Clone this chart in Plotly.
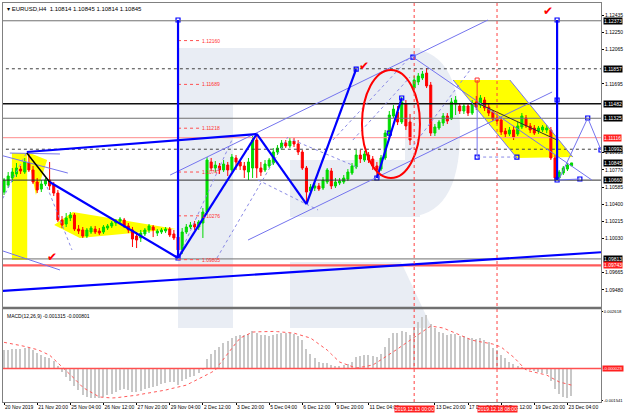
import plotly.graph_objects as go

# ---------------- data ----------------
bars = list(range(138))
opens = [1.10532,1.10607,1.10683,1.10726,1.10779,1.10747,1.10844,1.10769,1.10640,1.10564,
         1.10618,1.10661,1.10607,1.10521,1.10231,1.10188,1.10253,1.10285,1.10134,1.10124,
         1.10059,1.10102,1.10134,1.10113,1.10102,1.10145,1.10167,1.10199,1.10220,1.10231,
         1.10167,1.10124,1.10059,1.10038,1.10081,1.10124,1.10156,1.10091,1.10102,1.10113,
         1.10134,1.10081,1.10048,1.09909,1.10102,1.10156,1.10188,1.10156,1.10199,1.10317,
         1.10855,1.10790,1.10812,1.10769,1.10822,1.10769,1.10898,1.10855,1.10812,1.10747,
         1.10790,1.11091,1.10790,1.10769,1.10812,1.10844,1.10962,1.11005,1.11059,1.11027,
         1.11080,1.11048,1.10962,1.10790,1.10543,1.10575,1.10597,1.10575,1.10640,1.10758,
         1.10597,1.10629,1.10640,1.10672,1.10736,1.10801,1.10930,1.10876,1.10930,1.10887,
         1.10812,1.10779,1.10898,1.11156,1.11349,1.11392,1.11285,1.11478,1.11285,1.11650,
         1.11715,1.11758,1.11811,1.11682,1.11166,1.11220,1.11274,1.11349,1.11317,1.11478,
         1.11457,1.11403,1.11457,1.11381,1.11500,1.11467,1.11521,1.11446,1.11392,1.11328,
         1.11306,1.11188,1.11156,1.11199,1.11156,1.11231,1.11328,1.11242,1.11220,1.11188,
         1.11199,1.11199,1.11199,1.10898,1.10683,1.10736,1.10779,1.10814]
highs = [1.10683,1.10747,1.10790,1.10844,1.10812,1.10898,1.10951,1.10812,1.10683,1.10661,
         1.10683,1.10855,1.10640,1.10554,1.10274,1.10306,1.10317,1.10306,1.10177,1.10156,
         1.10145,1.10167,1.10167,1.10145,1.10177,1.10188,1.10220,1.10242,1.10263,1.10253,
         1.10199,1.10156,1.10102,1.10124,1.10145,1.10188,1.10177,1.10134,1.10145,1.10156,
         1.10156,1.10124,1.10091,1.10145,1.10188,1.10210,1.10220,1.10231,1.10360,1.10908,
         1.10898,1.10865,1.10844,1.10876,1.10855,1.10941,1.10930,1.10876,1.10855,1.10898,
         1.11134,1.11156,1.10855,1.10876,1.10898,1.11005,1.11037,1.11091,1.11091,1.11113,
         1.11113,1.11091,1.10984,1.10812,1.10618,1.10629,1.10629,1.10693,1.10790,1.10790,
         1.10683,1.10683,1.10715,1.10779,1.10844,1.10984,1.10984,1.10973,1.10962,1.10919,
         1.10855,1.10930,1.11199,1.11403,1.11467,1.11457,1.11553,1.11521,1.11371,1.11779,
         1.11811,1.11833,1.11865,1.11715,1.11263,1.11306,1.11381,1.11381,1.11543,1.11564,
         1.11489,1.11489,1.11489,1.11521,1.11564,1.11575,1.11553,1.11478,1.11414,1.11371,
         1.11338,1.11220,1.11231,1.11242,1.11285,1.11381,1.11360,1.11274,1.11252,1.11242,
         1.11252,1.11252,1.11231,1.10930,1.10769,1.10812,1.10844,1.10845]
lows = [1.10500,1.10575,1.10640,1.10693,1.10726,1.10726,1.10747,1.10618,1.10521,1.10532,
        1.10597,1.10554,1.10489,1.10210,1.10145,1.10156,1.10220,1.10113,1.10081,1.10038,
        1.10038,1.10081,1.10081,1.10070,1.10081,1.10124,1.10145,1.10167,1.10199,1.10145,
        1.10091,1.09941,1.09930,1.09995,1.10059,1.10091,1.10048,1.10059,1.10081,1.10091,
        1.10048,1.10016,1.09823,1.09866,1.10081,1.10134,1.10124,1.10124,1.10038,1.10296,
        1.10758,1.10747,1.10726,1.10747,1.10704,1.10747,1.10769,1.10769,1.10683,1.10661,
        1.10683,1.10683,1.10704,1.10747,1.10790,1.10822,1.10930,1.10984,1.11005,1.11005,
        1.11016,1.10930,1.10769,1.10414,1.10511,1.10543,1.10543,1.10554,1.10618,1.10564,
        1.10575,1.10607,1.10618,1.10650,1.10715,1.10779,1.10844,1.10855,1.10844,1.10769,
        1.10683,1.10758,1.10876,1.11123,1.11328,1.11252,1.11263,1.11199,1.11037,1.11629,
        1.11682,1.11736,1.11650,1.11134,1.11134,1.11199,1.11242,1.11263,1.11306,1.11360,
        1.11371,1.11371,1.11349,1.11360,1.11414,1.11435,1.11403,1.11349,1.11295,1.11263,
        1.11145,1.11123,1.11134,1.11091,1.11134,1.11209,1.11220,1.11166,1.11145,1.11156,
        1.11177,1.11166,1.10876,1.10661,1.10661,1.10715,1.10758,1.10814]
closes = [1.10661,1.10704,1.10747,1.10790,1.10758,1.10855,1.10769,1.10640,1.10554,1.10618,
          1.10661,1.10597,1.10521,1.10231,1.10177,1.10253,1.10285,1.10134,1.10113,1.10059,
          1.10124,1.10145,1.10102,1.10091,1.10156,1.10167,1.10199,1.10220,1.10242,1.10167,
          1.10124,1.10027,1.10016,1.10091,1.10124,1.10167,1.10124,1.10113,1.10124,1.10134,
          1.10070,1.10038,1.09909,1.10102,1.10156,1.10177,1.10156,1.10210,1.10317,1.10876,
          1.10790,1.10822,1.10769,1.10833,1.10769,1.10908,1.10855,1.10812,1.10769,1.10855,
          1.11091,1.10790,1.10747,1.10833,1.10876,1.10962,1.11005,1.11059,1.11027,1.11080,
          1.11048,1.10962,1.10790,1.10532,1.10586,1.10597,1.10564,1.10661,1.10769,1.10597,
          1.10640,1.10650,1.10683,1.10747,1.10812,1.10930,1.10887,1.10941,1.10876,1.10812,
          1.10769,1.10898,1.11166,1.11360,1.11424,1.11285,1.11500,1.11242,1.11091,1.11736,
          1.11779,1.11801,1.11672,1.11166,1.11231,1.11285,1.11349,1.11295,1.11500,1.11521,
          1.11403,1.11457,1.11381,1.11489,1.11446,1.11543,1.11435,1.11381,1.11317,1.11295,
          1.11177,1.11156,1.11199,1.11123,1.11242,1.11349,1.11242,1.11199,1.11166,1.11220,
          1.11231,1.11220,1.10898,1.10683,1.10747,1.10790,1.10822,1.10845]

macd_main = [0.00085,0.00086,0.00088,0.00090,0.00090,0.00092,0.00092,0.00082,0.00070,0.00060,
             0.00052,0.00045,0.00035,0.00010,-0.00020,-0.00040,-0.00060,-0.00085,-0.00105,-0.00125,
             -0.00135,-0.00140,-0.00142,-0.00140,-0.00135,-0.00128,-0.00120,-0.00112,-0.00105,-0.00100,
             -0.00102,-0.00110,-0.00112,-0.00108,-0.00100,-0.00092,-0.00088,-0.00082,-0.00075,-0.00068,
             -0.00065,-0.00066,-0.00080,-0.00060,-0.00050,-0.00040,-0.00035,-0.00025,-0.00010,0.00040,
             0.00065,0.00085,0.00100,0.00115,0.00125,0.00140,0.00150,0.00155,0.00155,0.00158,
             0.00175,0.00165,0.00155,0.00152,0.00150,0.00155,0.00158,0.00162,0.00162,0.00162,
             0.00160,0.00150,0.00130,0.00090,0.00065,0.00045,0.00030,0.00025,0.00025,0.00015,
             0.00010,0.00010,0.00012,0.00020,0.00030,0.00050,0.00055,0.00060,0.00060,0.00055,
             0.00050,0.00065,0.00100,0.00140,0.00165,0.00165,0.00175,0.00170,0.00155,0.00190,
             0.00215,0.00240,0.00250,0.00205,0.00185,0.00170,0.00162,0.00155,0.00158,0.00158,
             0.00150,0.00148,0.00140,0.00140,0.00135,0.00138,0.00130,0.00122,0.00095,0.00085,
             0.00060,0.00045,0.00030,0.00020,0.00010,0.00005,-0.00005,-0.00010,-0.00015,-0.00020,
             -0.00025,-0.00030,-0.00060,-0.00100,-0.00120,-0.00135,-0.00140,-0.001315]
macd_signal = [0.00120,0.00117,0.00113,0.00109,0.00105,0.00101,0.00097,0.00093,0.00086,0.00078,
               0.00069,0.00060,0.00042,0.00024,0.00007,-0.00010,-0.00030,-0.00050,-0.00070,-0.00090,
               -0.00102,-0.00114,-0.00125,-0.00135,-0.00137,-0.00139,-0.00140,-0.00139,-0.00137,-0.00135,
               -0.00132,-0.00130,-0.00127,-0.00123,-0.00120,-0.00117,-0.00113,-0.00110,-0.00106,-0.00103,
               -0.00098,-0.00094,-0.00089,-0.00085,-0.00080,-0.00070,-0.00061,-0.00051,-0.00042,-0.00031,
               -0.00021,-0.00010,0.00017,0.00043,0.00070,0.00093,0.00117,0.00140,0.00149,0.00159,
               0.00168,0.00169,0.00170,0.00172,0.00173,0.00171,0.00170,0.00168,0.00167,0.00165,
               0.00163,0.00157,0.00152,0.00146,0.00140,0.00126,0.00112,0.00098,0.00084,0.00065,
               0.00047,0.00028,0.00021,0.00014,0.00007,0.00000,0.00003,0.00007,0.00010,0.00014,
               0.00026,0.00038,0.00051,0.00063,0.00075,0.00089,0.00103,0.00117,0.00131,0.00145,
               0.00158,0.00171,0.00183,0.00196,0.00193,0.00190,0.00187,0.00179,0.00171,0.00162,
               0.00154,0.00146,0.00138,0.00130,0.00126,0.00123,0.00119,0.00116,0.00112,0.00105,
               0.00098,0.00082,0.00067,0.00051,0.00031,0.00010,-0.00010,-0.00015,-0.00019,-0.00024,
               -0.00028,-0.00033,-0.00044,-0.00054,-0.00065,-0.00070,-0.00075,-0.000801]

date_tick_bars = [0, 8, 16, 24, 32, 40, 48, 56, 64, 72, 80, 88, 104, 112, 120, 128, 136]
date_tick_text = ["20 Nov 2019", "21 Nov 20:00", "25 Nov 04:00", "26 Nov 12:00", "27 Nov 20:00",
                  "29 Nov 04:00", "2 Dec 12:00", "3 Dec 20:00", "5 Dec 04:00", "6 Dec 12:00",
                  "9 Dec 20:00", "11 Dec 04:00", "13 Dec 20:00", "17 Dec 04:00",
                  "18 Dec 12:00", "19 Dec 20:00", "23 Dec 04:00"]
price_ticks = [1.12435, 1.12250, 1.12065, 1.11695, 1.10955,
               1.10770, 1.10585, 1.10400, 1.10215, 1.10030, 1.09665, 1.09480, 1.09295]
macd_ticks = [0.002618, -0.001541]
black_levels = [1.12373, 1.11857, 1.11482, 1.11325, 1.10992, 1.10845, 1.10660, 1.09813]
red_levels = [1.11116, 1.09743]
fib_levels = [1.12160, 1.11689, 1.11218, 1.10747, 1.10276, 1.09805]
marker_bars = [99, 119]
marker_text = ["2019.12.13 00:00", "2019.12.18 08:00"]

FONT = "Liberation Sans"
BLUE = "#0000ff"
THIN = "#7474ee"
WM = "#e9edf4"

fig = go.Figure()

fig.add_trace(go.Candlestick(
    x=bars, open=opens, high=highs, low=lows, close=closes,
    increasing=dict(line=dict(color="#00d800", width=1), fillcolor="#00e000"),
    decreasing=dict(line=dict(color="#ff0000", width=1), fillcolor="#ff0000"),
    whiskerwidth=0, xaxis="x", yaxis="y", showlegend=False, hoverinfo="skip"))

fig.add_trace(go.Bar(x=bars, y=macd_main, marker=dict(color="#c8c8c8", line=dict(width=0)),
                     width=0.3, xaxis="x2", yaxis="y2", showlegend=False))
fig.add_trace(go.Scatter(x=bars, y=macd_signal, mode="lines",
                         line=dict(color="#ff5a5a", width=1, dash="dot"),
                         xaxis="x2", yaxis="y2", showlegend=False))

shapes = []
annotations = []

def pline(x0, y0, x1, y1, color, width=1, dash="solid", layer="above", xref="x", yref="y"):
    shapes.append(dict(type="line", x0=x0, y0=y0, x1=x1, y1=y1, xref=xref, yref=yref,
                       line=dict(color=color, width=width, dash=dash), layer=layer))

def ppath(path, fill, layer="below", ref=("x", "y"), line=None):
    shapes.append(dict(type="path", path=path, xref=ref[0], yref=ref[1], fillcolor=fill,
                       line=line or dict(width=0), layer=layer))

# watermark (paper coordinates)
def px(xp):
    return (xp - 3) / 598.0
def py(yp):
    return (402 - yp) / 399.0
def wm_path(points):
    return "M " + " L ".join(f"{px(a):.4f},{py(b):.4f}" for a, b in points) + " Z"
ppath(wm_path([(178, 48), (233, 48), (233, 328), (178, 328)]), WM, ref=("paper", "paper"))
ppath(wm_path([(233, 48), (420, 48), (420, 103), (233, 103)]), WM, ref=("paper", "paper"))
ppath(wm_path([(290, 160), (420, 160), (420, 217), (290, 217)]), WM, ref=("paper", "paper"))
ppath(wm_path([(290, 262), (401, 262), (432, 328), (290, 328)]), WM, ref=("paper", "paper"))
ppath(f"M {px(405):.4f},{py(48):.4f} Q {px(460):.4f},{py(48):.4f} {px(460):.4f},{py(132):.4f} "
      f"Q {px(460):.4f},{py(217):.4f} {px(405):.4f},{py(217):.4f} Z", WM, ref=("paper", "paper"))

# yellow areas
ppath("M 1.9,1.09801 L 5.6,1.09801 L 5.6,1.10951 L 1.9,1.10951 Z", "#ffff00")
ppath("M 5.6,1.10962 L 10.4,1.10876 L 7.7,1.10500 Z", "#ffff00")
ppath("M 12.1,1.10177 L 16.6,1.10317 L 41.5,1.10134 L 18.3,1.10038 Z", "#ffff00")
ppath("M 108.4,1.11736 L 122.1,1.11736 L 137.3,1.10908 L 123.8,1.10898 Z", "#ffff00")

# horizontal levels
for lv, col, w, d in [(1.12373, "#707070", 1, "solid"), (1.11857, "#404040", 1, "dot"),
                      (1.11482, "#101010", 1.5, "solid"), (1.11325, "#707070", 1, "solid"),
                      (1.11116, "#ff8c8c", 1, "solid"), (1.10992, "#404040", 1, "dot"),
                      (1.10660, "#303030", 1, "solid"), (1.09813, "#707070", 1, "solid"),
                      (1.09743, "#ff5a5a", 2.2, "solid")]:
    pline(-1, lv, 145, lv, col, w, d)

# fib dotted red levels
for lv in fib_levels:
    pline(42, lv, 47.2, lv, "#ff5050", 1, "dot")
    annotations.append(dict(x=47.3, y=lv, xref="x", yref="y", text=f"{lv:.5f}", showarrow=False,
                            xanchor="left", yanchor="middle", font=dict(family=FONT, size=5, color="#ff3030")))

# dotted thin lines
for x0, y0, x1, y1 in [(-1, 1.10403, 5.5, 1.10962), (10.4, 1.10586, 16.4, 1.09909),
                       (42, 1.09823, 55, 1.11091), (51.4, 1.09823, 68.5, 1.11123),
                       (61.3, 1.10661, 75.8, 1.10339), (69.7, 1.11091, 85.2, 1.10801),
                       (79.4, 1.11091, 98.0, 1.11983), (84.2, 1.11091, 98.0, 1.11768),
                       (98.0, 1.10984, 112.5, 1.11844), (114.2, 1.10908, 123.8, 1.10908)]:
    pline(x0, y0, x1, y1, "#8a8ae6", 1, "dot")

# thin channel lines
for x0, y0, x1, y1 in [(40.1, 1.10715, 116.8, 1.12381), (58.9, 1.10016, 132.3, 1.11607),
                       (98.7, 1.11983, 141.9, 1.10661), (-1, 1.10930, 15.4, 1.10736),
                       (1.4, 1.10951, 13.5, 1.10941), (-1, 1.09909, 13.5, 1.09694),
                       (133.9, 1.10661, 140.9, 1.11328), (140.9, 1.11328, 144.1, 1.10984),
                       (133.9, 1.10661, 139.0, 1.10672), (114.2, 1.11489, 114.2, 1.10908),
                       (108.4, 1.11736, 123.8, 1.10898), (122.1, 1.11736, 137.3, 1.10908)]:
    pline(x0, y0, x1, y1, THIN, 1)
pline(114.2, 1.11489, 133.5, 1.11091, "#303030", 1)
pline(5.5, 1.10951, 11.0, 1.10640, "#000000", 1.5)
pline(114.2, 1.11736, 114.2, 1.11489, "#ff3030", 1)

# thick blue lines
for x0, y0, x1, y1 in [(5.5, 1.10962, 61, 1.11156), (11.0, 1.10640, 42, 1.09823),
                       (42, 1.12381, 42, 1.09823), (42, 1.09823, 61, 1.11156),
                       (61, 1.11156, 73, 1.10403), (73, 1.10403, 85, 1.11854),
                       (90, 1.10683, 96, 1.11543), (133.5, 1.12381, 133.5, 1.10661),
                       (-1, 1.09468, 145, 1.09887)]:
    pline(x0, y0, x1, y1, BLUE, 2.2)

# red ellipse
shapes.append(dict(type="circle", x0=86.4, x1=100.4, y0=1.10683, y1=1.11844, xref="x", yref="y",
                   line=dict(color="#ff0000", width=2), layer="above"))

# vertical red dotted marker lines
for b in marker_bars:
    pline(b, 0, b, 1, "#ff4040", 1, "dot", xref="x", yref="paper")

# separator between panels
pline(0, 0.2356, 1, 0.2356, "#707070", 2.5, xref="paper", yref="paper")
# macd zero level
pline(-1, -0.000023, 145, -0.000023, "#ff5050", 1.5, xref="x2", yref="y2")

# square markers
fig.add_trace(go.Scatter(
    x=[42, 42, 85, 90, 93, 96, 133.5, 133.5, 133.5, 140.9, 139.0, 114.2, 123.8, 98.7, 144.1],
    y=[1.12381, 1.09823, 1.11854, 1.10683, 1.11166, 1.11543, 1.12381, 1.11521, 1.10661,
       1.11328, 1.10672, 1.10908, 1.10908, 1.11983, 1.10984],
    mode="markers", marker=dict(symbol="square-open", size=4, color=BLUE, line=dict(width=1.2)),
    xaxis="x", yaxis="y", showlegend=False, hoverinfo="skip"))
fig.add_trace(go.Scatter(x=[114.2], y=[1.11736], mode="markers",
                         marker=dict(symbol="square-open", size=4, color="#ff3030"),
                         xaxis="x", yaxis="y", showlegend=False, hoverinfo="skip"))

# check marks
for xb, yp in [(86.9, 1.11890), (131.3, 1.12480), (11.5, 1.09835)]:
    annotations.append(dict(x=xb, y=yp, xref="x", yref="y", text="✔", showarrow=False,
                            font=dict(family="DejaVu Sans", size=12, color="#ff0000")))

# right side price boxes
for lv in black_levels:
    annotations.append(dict(x=1.0, y=lv, xref="paper", yref="y", text=f"{lv:.5f}", showarrow=False,
                            xanchor="left", yanchor="middle", bgcolor="#000000", borderpad=0, xshift=2,
                            font=dict(family=FONT, size=5, color="#ffffff")))
for lv in red_levels:
    annotations.append(dict(x=1.0, y=lv, xref="paper", yref="y", text=f"{lv:.5f}", showarrow=False,
                            xanchor="left", yanchor="middle", bgcolor="#ff2020", borderpad=0, xshift=2,
                            font=dict(family=FONT, size=5, color="#ffffff")))
annotations.append(dict(x=1.0, y=-0.000023, xref="paper", yref="y2", text="-0.000023", showarrow=False,
                        xanchor="left", yanchor="middle", bgcolor="#ff2020", borderpad=0, xshift=1,
                        font=dict(family=FONT, size=4.2, color="#ffffff")))

# time markers on the x axis
for b, t in zip(marker_bars, marker_text):
    annotations.append(dict(x=b, y=-0.0175, xref="x2", yref="paper", text=t, showarrow=False,
                            xanchor="center", yanchor="middle", bgcolor="#ff2020", borderpad=0,
                            font=dict(family=FONT, size=5, color="#ffffff")))

# titles
annotations.append(dict(x=0.003, y=0.997, xref="paper", yref="paper", showarrow=False,
                        text="▾ EURUSD,H4  1.10814 1.10845 1.10814 1.10845", xanchor="left", yanchor="top",
                        font=dict(family=FONT, size=6, color="#000000")))
annotations.append(dict(x=0.003, y=0.228, xref="paper", yref="paper", showarrow=False,
                        text="MACD(12,26,9) -0.001315 -0.000801", xanchor="left", yanchor="top",
                        font=dict(family=FONT, size=5, color="#000000")))

xr = [-0.25, 144.1]
fig.update_layout(
    width=624, height=416,
    margin=dict(l=3, r=23, t=3, b=14, autoexpand=False),
    paper_bgcolor="white", plot_bgcolor="white",
    showlegend=False,
    bargap=0,
    xaxis=dict(domain=[0, 1], range=xr, anchor="y", showticklabels=False, showgrid=False,
               zeroline=False, showline=True, linecolor="#808080", mirror=True, automargin=False,
               rangeslider=dict(visible=False), fixedrange=True),
    yaxis=dict(domain=[0.2381, 1], range=[1.09296, 1.12564], side="right", anchor="x",
               tickvals=price_ticks, ticktext=[f"{v:.5f}" for v in price_ticks], automargin=False,
               tickfont=dict(family=FONT, size=5, color="#000000"), ticks="outside", ticklen=2,
               tickcolor="#000000", showgrid=False, zeroline=False, showline=True,
               linecolor="#808080", mirror=True),
    xaxis2=dict(domain=[0, 1], range=xr, anchor="y2", tickvals=date_tick_bars, ticktext=date_tick_text,
                tickangle=0, tickfont=dict(family=FONT, size=5, color="#000000"), ticks="outside", ticklen=2,
                tickcolor="#000000", ticklabelposition="outside right", showgrid=False, automargin=False,
                zeroline=False, showline=True, linecolor="#808080", mirror=True),
    yaxis2=dict(domain=[0, 0.2331], range=[-0.001588, 0.002758], side="right", anchor="x2",
                tickvals=macd_ticks, ticktext=["0.002618", "-0.001541"], automargin=False,
                tickfont=dict(family=FONT, size=4.2, color="#000000"), ticks="outside", ticklen=1,
                tickcolor="#000000", showgrid=False, zeroline=False, showline=True,
                linecolor="#808080", mirror=True),
    shapes=shapes, annotations=annotations,
)

fig.write_html("out.html", config={"displayModeBar": False},
               post_script="document.body.style.margin='0';document.body.style.overflow='hidden';")
